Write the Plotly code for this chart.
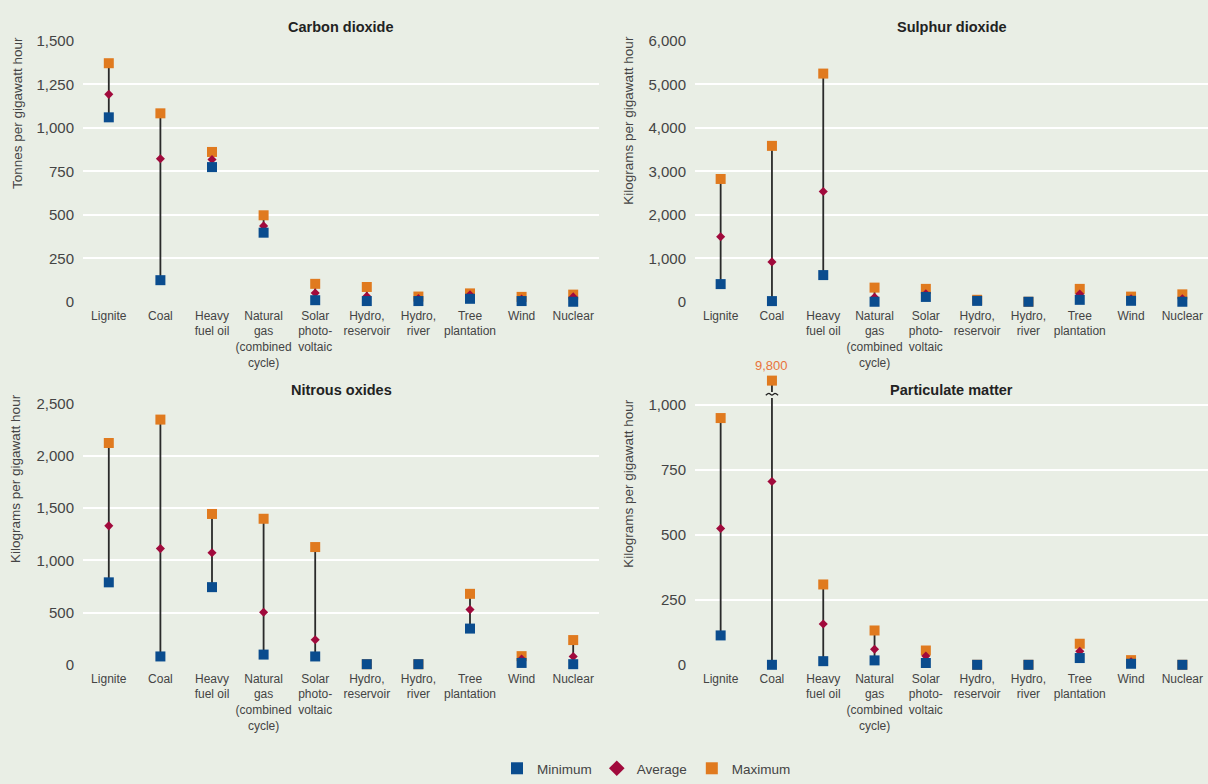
import plotly.graph_objects as go

# Technologies along the horizontal axis of every panel
categories = [
    "Lignite", "Coal", "Heavy<br>fuel oil", "Natural<br>gas<br>(combined<br>cycle)",
    "Solar<br>photo-<br>voltaic", "Hydro,<br>reservoir", "Hydro,<br>river",
    "Tree<br>plantation", "Wind", "Nuclear",
]

# Carbon dioxide, tonnes per GWh
co2_min = [1060, 124, 774, 397, 9, 4, 4, 17, 4, 0]
co2_avg = [1192, 822, 818, 436, 50, 31, 18, 40, 15, 28]
co2_max = [1371, 1083, 861, 497, 103, 85, 30, 48, 28, 41]

# Sulphur dioxide, kg per GWh
so2_min = [406, 15, 613, 0, 111, 20, 0, 44, 22, 0]
so2_avg = [1493, 916, 2534, 103, 185, 30, 0, 177, 67, 67]
so2_max = [2823, 3584, 5246, 325, 296, 45, 0, 296, 118, 170]

# Nitrous oxides, kg per GWh
nox_min = [790, 80, 744, 98, 80, 6, 6, 347, 18, 6]
nox_avg = [1331, 1113, 1073, 504, 240, 6, 6, 529, 55, 80]
nox_max = [2125, 2349, 1445, 1399, 1128, 6, 6, 680, 83, 237]

# Particulate matter, kg per GWh
pm_min = [113, 0, 14, 17, 7, 0, 0, 26, 4, 0]
pm_avg = [524, 705, 157, 60, 34, 0, 0, 52, 12, 0]
pm_max = [949, 9800, 309, 132, 55, 0, 0, 81, 18, 0]

W, H = 1208, 784
BG = "#E9EEE5"
C_MIN, C_AVG, C_MAX = "#0A4C8E", "#A10A3C", "#E07A1F"
FONT = "Liberation Sans, Arial, sans-serif"
TXT = "#444444"

# Values beyond the top of the particulate scale are drawn above a break mark
BREAK_DRAWN = 1093
BREAK_MARK = 1040

# Pixel geometry of each plot area: left, right, pixel row of the top tick, pixel row of zero
panels = [
    dict(title="Carbon dioxide", ytitle="Tonnes per gigawatt hour",
         mins=co2_min, avgs=co2_avg, maxs=co2_max, ymax=1500, rtop=1500, dtick=250,
         box=(83, 599, 33, 304), tcy=19, ytx=17, yty=108),
    dict(title="Sulphur dioxide", ytitle="Kilograms per gigawatt hour",
         mins=so2_min, avgs=so2_avg, maxs=so2_max, ymax=6000, rtop=6000, dtick=1000,
         box=(695, 1208, 33, 304), tcy=19, ytx=629, yty=116),
    dict(title="Nitrous oxides", ytitle="Kilograms per gigawatt hour",
         mins=nox_min, avgs=nox_avg, maxs=nox_max, ymax=2500, rtop=2500, dtick=500,
         box=(83, 599, 410, 681), tcy=396, ytx=16, yty=488),
    dict(title="Particulate matter", ytitle="Kilograms per gigawatt hour",
         mins=pm_min, avgs=pm_avg, maxs=pm_max, ymax=1000, rtop=1170, dtick=250,
         box=(695, 1208, 411, 681), tcy=396, ytx=629, yty=493),
]


def shown(v, top):
    return v if v <= top else BREAK_DRAWN


fig = go.Figure()
annotations = []
xs_idx = list(range(len(categories)))

for k, p in enumerate(panels):
    n = "" if k == 0 else str(k + 1)
    xa, ya = "x" + n, "y" + n
    top = p["ymax"]
    maxs_drawn = [shown(v, top) for v in p["maxs"]]

    # min-to-max range lines
    lx, ly = [], []
    for i, (lo, hi, raw) in enumerate(zip(p["mins"], maxs_drawn, p["maxs"])):
        if raw > top:
            lx += [i, i, None, i, i, None]
            ly += [lo, BREAK_MARK - 14, None, BREAK_MARK + 9, hi, None]
            # wavy break symbol
            fig.add_trace(go.Scatter(
                x=[i - 0.12, i - 0.06, i, i + 0.06, i + 0.12],
                y=[BREAK_MARK - 3, BREAK_MARK + 4, BREAK_MARK - 3, BREAK_MARK + 4, BREAK_MARK - 3],
                mode="lines", line=dict(color="#222222", width=1.3, shape="spline"),
                xaxis=xa, yaxis=ya, showlegend=False, hoverinfo="skip", cliponaxis=False))
            annotations.append(dict(
                x=i, y=hi, xref=xa, yref=ya, text=f"{raw:,}", showarrow=False,
                yshift=15, font=dict(family=FONT, size=13, color="#E8743B")))
        else:
            lx += [i, i, None]
            ly += [lo, hi, None]
    fig.add_trace(go.Scatter(x=lx, y=ly, mode="lines",
                             line=dict(color="#2A2A2A", width=1.8),
                             xaxis=xa, yaxis=ya, showlegend=False,
                             hoverinfo="skip", cliponaxis=False))

    fig.add_trace(go.Scatter(x=xs_idx, y=maxs_drawn, mode="markers", name="Maximum",
                             marker=dict(symbol="square", size=10, color=C_MAX),
                             xaxis=xa, yaxis=ya, showlegend=(k == 0), legendrank=3,
                             cliponaxis=False))
    fig.add_trace(go.Scatter(x=xs_idx, y=p["avgs"], mode="markers", name="Average",
                             marker=dict(symbol="diamond", size=7, color=C_AVG),
                             xaxis=xa, yaxis=ya, showlegend=(k == 0), legendrank=2,
                             cliponaxis=False))
    fig.add_trace(go.Scatter(x=xs_idx, y=p["mins"], mode="markers", name="Minimum",
                             marker=dict(symbol="square", size=10, color=C_MIN),
                             xaxis=xa, yaxis=ya, showlegend=(k == 0), legendrank=1,
                             cliponaxis=False))

    left, right, ytop, ybot = p["box"]
    px_per_unit = (ybot - ytop) / top
    range_top_px = ybot - p["rtop"] * px_per_unit
    xdom = [left / W, min(right / W, 1.0)]
    ydom = [1 - ybot / H, 1 - range_top_px / H]
    fig.layout["xaxis" + n] = dict(
        domain=xdom, anchor=ya, range=[-0.5, 9.5], tickvals=xs_idx, ticktext=categories,
        tickangle=0, showgrid=False, zeroline=False, showline=False, ticks="",
        ticklabelstandoff=5, tickfont=dict(family=FONT, size=12, color=TXT))
    fig.layout["yaxis" + n] = dict(
        domain=ydom, anchor=xa, range=[0, p["rtop"]], dtick=p["dtick"], tickformat=",d",
        showgrid=True, gridcolor="white", gridwidth=2, zeroline=False, showline=False,
        ticks="", ticklabelstandoff=8, tickfont=dict(family=FONT, size=15, color=TXT))

    annotations.append(dict(
        x=(xdom[0] + xdom[1]) / 2, y=1 - p["tcy"] / H, xref="paper", yref="paper",
        text=f"<b>{p['title']}</b>", showarrow=False, xanchor="center", yanchor="middle",
        font=dict(family=FONT, size=14.5, color="#222222")))
    annotations.append(dict(
        x=p["ytx"] / W, y=1 - p["yty"] / H, xref="paper", yref="paper",
        text=p["ytitle"], textangle=-90, showarrow=False, xanchor="center",
        yanchor="middle", font=dict(family=FONT, size=13.5, color=TXT)))

fig.update_layout(
    width=W, height=H, margin=dict(l=0, r=0, t=0, b=0),
    paper_bgcolor=BG, plot_bgcolor=BG,
    annotations=annotations,
    legend=dict(orientation="h", x=497 / W, y=1 - 773 / H, xanchor="left", yanchor="top",
                font=dict(family=FONT, size=13.5, color=TXT), bgcolor="rgba(0,0,0,0)",
                traceorder="normal", itemwidth=30, itemsizing="constant"),
    showlegend=True,
)

fig.write_html("out.html")
